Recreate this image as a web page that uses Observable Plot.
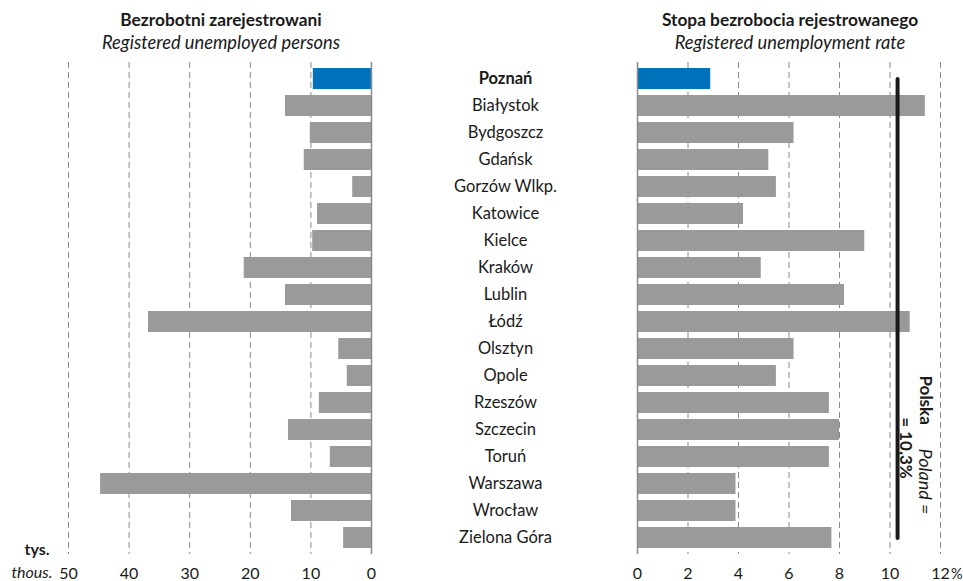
<!DOCTYPE html>
<html><head><meta charset="utf-8">
<script src="https://cdn.jsdelivr.net/npm/d3@7"></script>
<script src="https://cdn.jsdelivr.net/npm/@observablehq/plot@0.6"></script>
<style>
body{margin:0;background:#fff;font-family:Lato,"Open Sans",sans-serif;color:#1a1a1a}
#wrap{position:relative;width:963px;height:581px;overflow:hidden}
.t{position:absolute;white-space:nowrap;transform:translateX(-50%);line-height:18px}
.b{font-weight:bold;font-size:17.3px}.i{font-style:italic;font-size:18.3px}
</style></head><body>
<div id="wrap">
  <div class="t b" style="left:221px;top:11px">Bezrobotni zarejestrowani</div>
  <div class="t i" style="left:221px;top:33px">Registered unemployed persons</div>
  <div class="t b" style="left:790px;top:11px">Stopa bezrobocia rejestrowanego</div>
  <div class="t i" style="left:790px;top:33px">Registered unemployment rate</div>
  <div id="left" style="position:absolute;left:0;top:55px"></div>
  <div id="right" style="position:absolute;left:400px;top:55px"></div>
</div>
<script>
const cities = ["Poznań","Białystok","Bydgoszcz","Gdańsk","Gorzów Wlkp.","Katowice","Kielce","Kraków","Lublin","Łódź","Olsztyn","Opole","Rzeszów","Szczecin","Toruń","Warszawa","Wrocław","Zielona Góra"];
const unemployedThous = [9.6,14.2,10.1,11.1,3.1,8.9,9.7,21.0,14.2,36.8,5.4,4.0,8.6,13.7,6.8,44.7,13.2,4.6];
const ratePct = [2.9,11.4,6.2,5.2,5.5,4.2,9.0,4.9,8.2,10.8,6.2,5.5,7.6,8.0,7.6,3.9,3.9,7.7];
const highlight = "Poznań";
const polandRate = 10.3;
const leftTicks = [0,10,20,30,40,50];
const rightTicks = [0,2,4,6,8,10,12];

const BLUE = "#0072bb", GRAY = "#9a9a9a", GRID = "#8a8a8a", INK = "#1a1a1a";
const rows = cities.map((c,i)=>({city:c, thous:unemployedThous[i], rate:ratePct[i]}));
const fillOf = d => d.city === highlight ? BLUE : GRAY;
const yOpts = {domain: cities, paddingInner: 0.23, paddingOuter: 0.15, axis: null};
const common = {height: 526, marginTop: 7, marginBottom: 27,
  style: {fontFamily: "Lato, 'Open Sans', sans-serif", fontSize: "16px", color: INK, background: "transparent", overflow: "visible"}};

const left = Plot.plot({
  ...common, width: 400, marginLeft: 68, marginRight: 29,
  x: {domain: [0, 50], reverse: true, label: null},
  y: yOpts,
  marks: [
    Plot.gridX(leftTicks.filter(d => d > 0), {stroke: GRID, strokeOpacity: 1, strokeDasharray: "6,4"}),
    Plot.barX(rows, {x: "thous", y: "city", fill: fillOf}),
    Plot.ruleX([0], {stroke: GRID, strokeWidth: 1.5}),
    Plot.axisX(leftTicks, {tickSize: 0, tickPadding: 13, fontSize: 16, fill: INK, label: null}),
    Plot.text(["tys."], {x: 50, text: d => d, frameAnchor: "bottom", dx: -19, dy: 0, textAnchor: "end", fontWeight: "bold", fontSize: 16, fill: INK}),
    Plot.text(["thous."], {x: 50, text: d => d, frameAnchor: "bottom", dx: -16, dy: 23, textAnchor: "end", fontStyle: "italic", fontSize: 16, fill: INK})
  ]
});
document.getElementById("left").append(left);

const right = Plot.plot({
  ...common, width: 563, marginLeft: 237, marginRight: 23,
  x: {domain: [0, 12], label: null},
  y: yOpts,
  marks: [
    Plot.gridX(rightTicks.filter(d => d > 0), {stroke: GRID, strokeOpacity: 1, strokeDasharray: "6,4"}),
    Plot.barX(rows, {x: "rate", y: "city", fill: fillOf}),
    Plot.ruleX([0], {stroke: GRID, strokeWidth: 1.5}),
    Plot.line([{x: polandRate, y: cities[0]}, {x: polandRate, y: cities[cities.length-1]}], {x: "x", y: "y", stroke: INK, strokeWidth: 4}),
    Plot.text(cities.filter(c => c !== highlight), {y: d => d, text: d => d, frameAnchor: "left", dx: -132, textAnchor: "middle", fontSize: 16.5, fill: INK}),
    Plot.text(cities.filter(c => c === highlight), {y: d => d, text: d => d, frameAnchor: "left", dx: -132, textAnchor: "middle", fontSize: 16.5, fontWeight: "bold", fill: INK}),
    Plot.axisX(rightTicks, {tickSize: 0, tickPadding: 13, fontSize: 16, fill: INK, label: null}),
    Plot.text(["%"], {x: 12, text: d => d, frameAnchor: "bottom", dx: 10.5, dy: 24, textAnchor: "start", fontSize: 14.5, fill: INK}),
    Plot.text(["Polska"], {x: polandRate, text: d => d, frameAnchor: "top", dx: 34.5, dy: 313, rotate: 90, textAnchor: "start", fontWeight: "bold", fontSize: 17, fill: INK}),
    Plot.text(["Poland ="], {x: polandRate, text: d => d, frameAnchor: "top", dx: 34.5, dy: 386, rotate: 90, textAnchor: "start", fontStyle: "italic", fontSize: 18, fill: INK}),
    Plot.text(["= 10,3%"], {x: polandRate, text: d => d, frameAnchor: "top", dx: 14.5, dy: 385.5, rotate: 90, textAnchor: "middle", fontWeight: "bold", fontSize: 17, fill: INK})
  ]
});
document.getElementById("right").append(right);
</script>
</body></html>
